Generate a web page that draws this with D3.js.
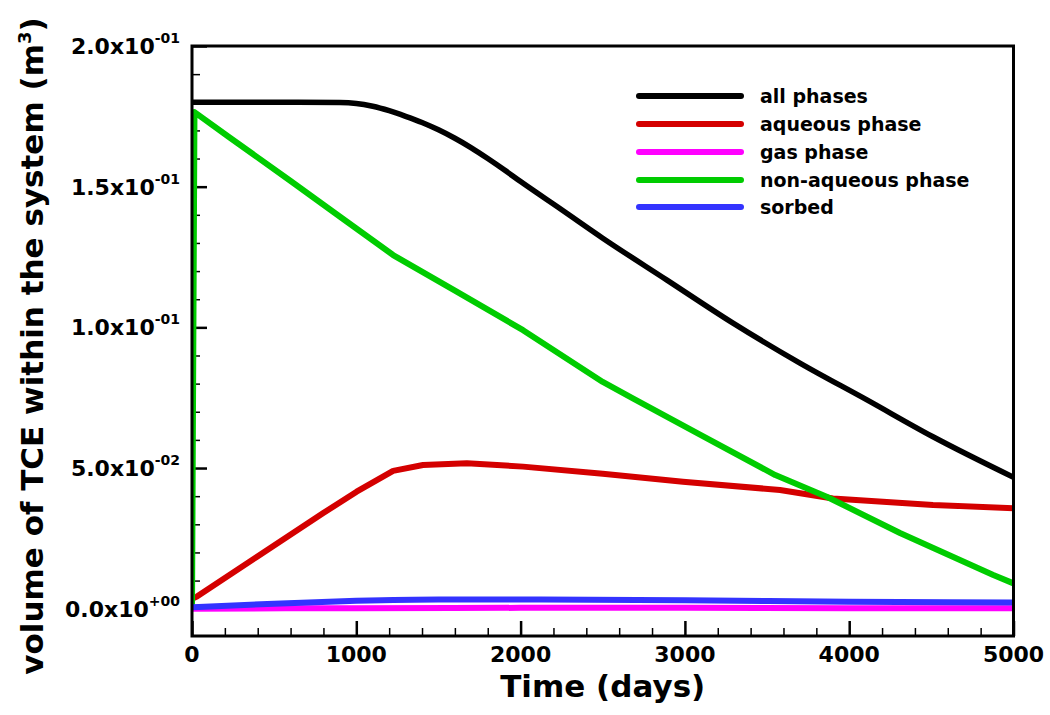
<!DOCTYPE html>
<html><head><meta charset="utf-8">
<script src="https://cdn.jsdelivr.net/npm/d3@7"></script>
<style>body{margin:0;background:#fff}text{font-family:"DejaVu Sans",sans-serif;font-weight:bold;fill:#000}</style>
</head><body><svg id="c" width="1050" height="715"></svg>
<script>
// ---- data ----
const seriesNames = ["all phases","aqueous phase","gas phase","non-aqueous phase","sorbed"];
const seriesColors = ["#000000","#d40000","#ff00ff","#00cc00","#3333ff"];
const allT = [0,500,900,1000,1100,1200,1300,1400,1500,1600,1700,1800,1900,2000,2250,2500,2891,3293,3700,4108,4510,5000];
const allV = [0.1800,0.1800,0.1799,0.1796,0.1786,0.1770,0.1750,0.1728,0.1702,0.1672,0.1638,0.1600,0.1560,0.1518,0.1418,0.1317,0.1168,0.1015,0.0873,0.0742,0.0611,0.0467];
const aqT = [0,30,396,799,1002,1224,1406,1673,2015,2500,2988,3579,3901,4510,5000];
const aqV = [0.0035,0.0043,0.0185,0.0340,0.0416,0.0490,0.0511,0.0517,0.0505,0.0480,0.0451,0.0422,0.0392,0.0369,0.0357];
const gasT = [0,1000,2000,3000,4000,5000];
const gasV = [0.0000,0.0002,0.0003,0.0003,0.0002,0.0002];
const napT = [0,15,231,596,901,1224,1611,2015,2500,2686,3092,3550,3863,4309,4877,5000];
const napV = [0,0.1765,0.1674,0.1522,0.1393,0.1257,0.1127,0.0990,0.0806,0.0747,0.0619,0.0475,0.0398,0.0269,0.0120,0.0090];
const sorbT = [0,500,1000,1500,2000,3000,4000,5000];
const sorbV = [0.0005,0.0018,0.0028,0.0033,0.0033,0.0030,0.0025,0.0022];
const xMajor = [0,1000,2000,3000,4000,5000];
const yMajor = [0,0.05,0.1,0.15,0.2];
const xTitle = "Time (days)";
const yTitle = "volume of TCE within the system (m";

const seriesT = [allT,aqT,gasT,napT,sorbT];
const seriesV = [allV,aqV,gasV,napV,sorbV];
const seriesSmooth = [true,false,true,false,true];

// ---- layout ----
const L=192,R=1013.5,T=46,B=636;
const svg=d3.select("#c");
const x=d3.scaleLinear().domain([0,5000]).range([L,R]);
const y=d3.scaleLinear().domain([-0.0097,0.2]).range([B,T]);

const xMinor=d3.range(0,5001,200).filter(v=>v%1000!==0);
const yMinor=d3.range(0,21).map(i=>i*0.01).filter(v=>Math.round(v*100)%5!==0);

// ticks
svg.append("g").attr("transform",`translate(0,${B})`)
  .call(d3.axisBottom(x).tickValues(xMinor).tickSize(-8).tickFormat(""))
  .call(g=>{g.select(".domain").remove();g.selectAll("line").attr("stroke","#000").attr("stroke-width",1.5);});
svg.append("g").attr("transform",`translate(0,${B})`)
  .call(d3.axisBottom(x).tickValues(xMajor).tickSize(-15).tickFormat(""))
  .call(g=>{g.select(".domain").remove();g.selectAll("line").attr("stroke","#000").attr("stroke-width",2.5);});
svg.append("g").attr("transform",`translate(${L},0)`)
  .call(d3.axisLeft(y).tickValues(yMinor).tickSize(-8).tickFormat(""))
  .call(g=>{g.select(".domain").remove();g.selectAll("line").attr("stroke","#000").attr("stroke-width",1.5);});
svg.append("g").attr("transform",`translate(${L},0)`)
  .call(d3.axisLeft(y).tickValues(yMajor).tickSize(-15).tickFormat(""))
  .call(g=>{g.select(".domain").remove();g.selectAll("line").attr("stroke","#000").attr("stroke-width",2.5);});

// clip
svg.append("clipPath").attr("id","clip").append("rect")
  .attr("x",L).attr("y",T).attr("width",R-L).attr("height",B-T);

// lines
const lineS=d3.line().x(d=>x(d[0])).y(d=>y(d[1])).curve(d3.curveMonotoneX);
const lineL=d3.line().x(d=>x(d[0])).y(d=>y(d[1]));
const gl=svg.append("g").attr("clip-path","url(#clip)");
seriesNames.forEach((n,i)=>{
  const pts=seriesT[i].map((t,j)=>[t,seriesV[i][j]]);
  gl.append("path").datum(pts).attr("d",seriesSmooth[i]?lineS:lineL).attr("fill","none")
    .attr("stroke",seriesColors[i]).attr("stroke-width",i===0?5.5:6)
    .attr("stroke-linejoin","round");
});

// frame
svg.append("rect").attr("x",L).attr("y",T).attr("width",R-L).attr("height",B-T)
  .attr("fill","none").attr("stroke","#000").attr("stroke-width",3);

// x tick labels
svg.append("g").selectAll("text").data(xMajor).join("text")
  .attr("x",d=>x(d)).attr("y",662).attr("text-anchor","middle")
  .style("font-size","22px").text(d=>d);

// y tick labels
function sci(v){
  if(v===0) return ["0.0","+00"];
  const e=Math.floor(Math.log10(v)+1e-9);
  const m=v/Math.pow(10,e);
  const es=(e<0?"-":"+")+String(Math.abs(e)).padStart(2,"0");
  return [m.toFixed(1),es];
}
const yl=svg.append("g").selectAll("text").data(yMajor).join("text")
  .attr("x",180).attr("y",d=>y(d)+8).attr("text-anchor","end").style("font-size","22px");
yl.each(function(d){
  const [m,e]=sci(d);
  const t=d3.select(this);
  t.append("tspan").text(m+"x10");
  t.append("tspan").attr("dy",-11).style("font-size","14px").text(e);
});

// axis titles
svg.append("text").attr("x",(L+R)/2).attr("y",697).attr("text-anchor","middle")
  .style("font-size","31px").text(xTitle);
const yt=svg.append("text").attr("transform","translate(43,346) rotate(-90)")
  .attr("text-anchor","middle").style("font-size","31px");
yt.append("tspan").text(yTitle);
yt.append("tspan").attr("dy",-12).style("font-size","18px").text("3");
yt.append("tspan").attr("dy",12).text(")");

// legend
const legY=[96,124,152,180,207];
const lg=svg.append("g");
seriesNames.forEach((n,i)=>{
  lg.append("line").attr("x1",639).attr("x2",741).attr("y1",legY[i]).attr("y2",legY[i])
    .attr("stroke",seriesColors[i]).attr("stroke-width",6).attr("stroke-linecap","round");
  lg.append("text").attr("x",760).attr("y",legY[i]+7).style("font-size","19px").text(n);
});
</script></body></html>
